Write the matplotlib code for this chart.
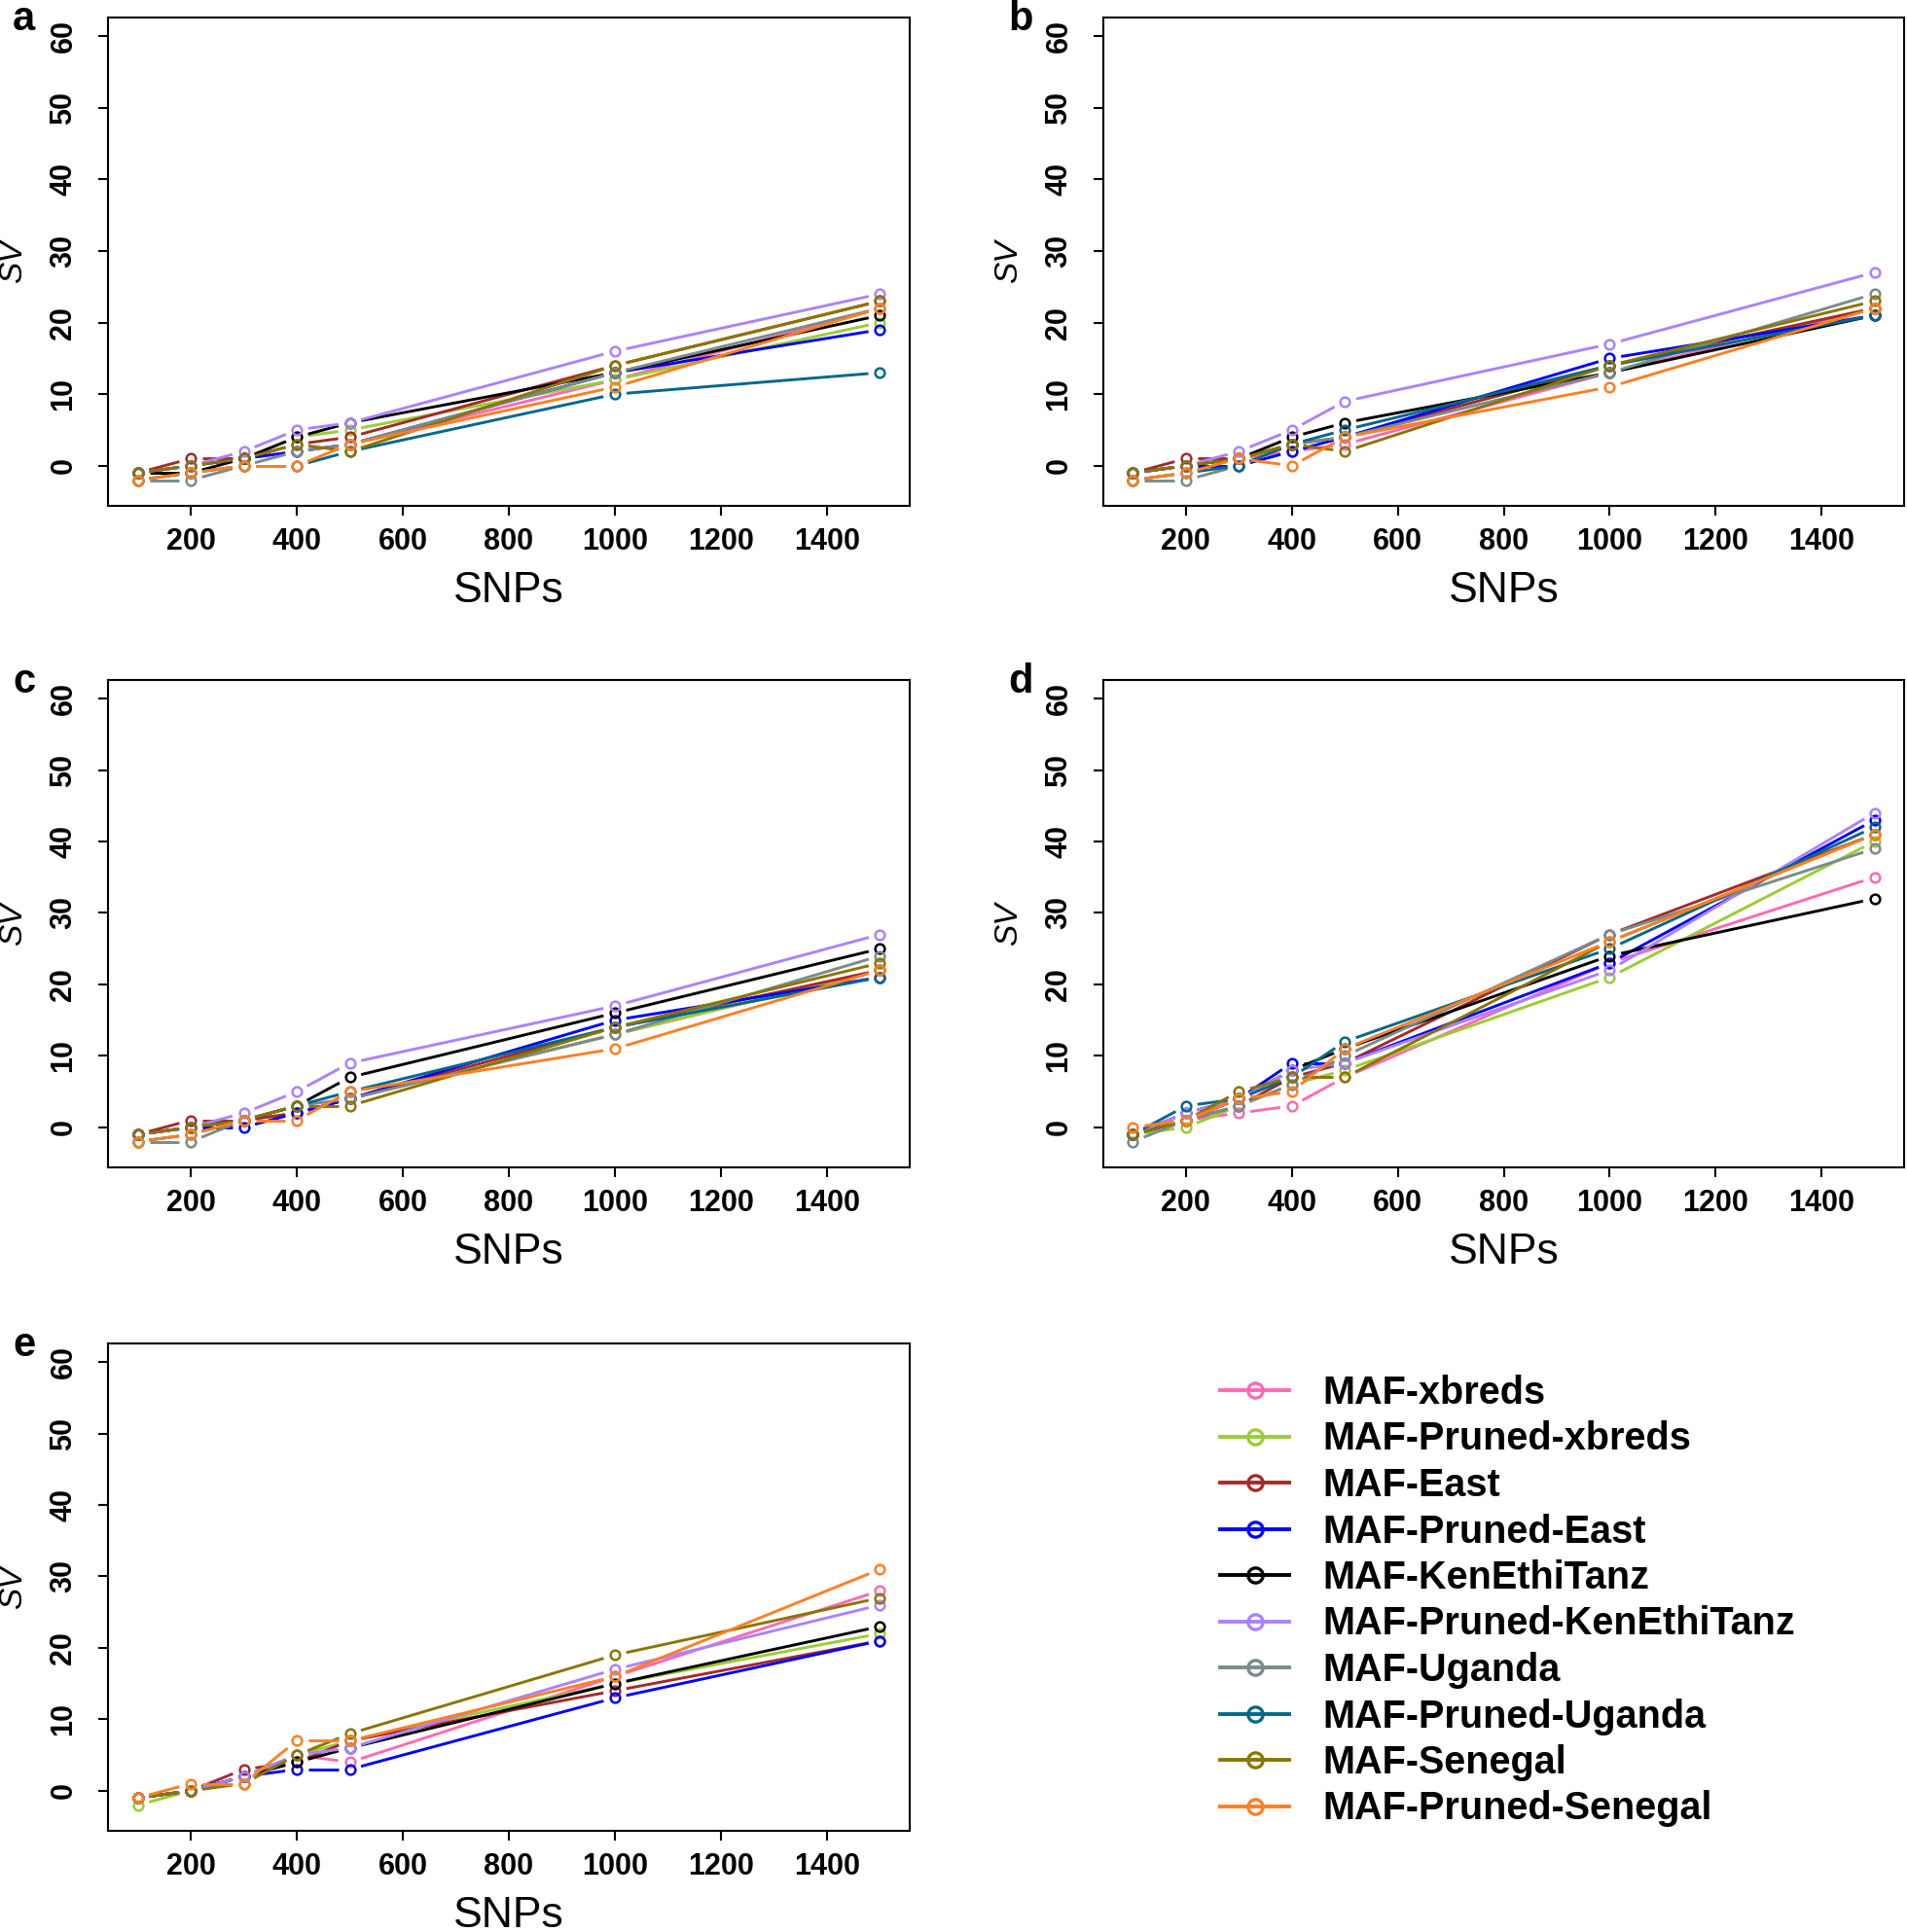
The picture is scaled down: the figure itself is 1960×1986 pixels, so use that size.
import numpy as np
import matplotlib
matplotlib.use("Agg")
import matplotlib.pyplot as plt
from matplotlib.lines import Line2D

plt.rcParams['font.family'] = ['Liberation Sans', 'DejaVu Sans']

snps = [100, 200, 300, 400, 500, 1000, 1500]

series_names = ["MAF-xbreds", "MAF-Pruned-xbreds", "MAF-East", "MAF-Pruned-East",
                "MAF-KenEthiTanz", "MAF-Pruned-KenEthiTanz", "MAF-Uganda",
                "MAF-Pruned-Uganda", "MAF-Senegal", "MAF-Pruned-Senegal"]
colors = ["#FF69B4", "#9ACD32", "#A52A2A", "#0000FF", "#000000",
          "#AB82FF", "#7A8B8B", "#00688B", "#8B7500", "#FF7F24"]

# SV values per series (same order as series_names), one list per panel
sv_a = [[-1, 0, 1, 2, 3, 12, 22],
        [-1, 0, 1, 4, 5, 12, 20],
        [-1, 1, 1, 3, 4, 14, 23],
        [-1, 0, 1, 2, 3, 13, 19],
        [-1, -1, 1, 4, 6, 13, 21],
        [-1, 0, 2, 5, 6, 16, 24],
        [-2, -2, 0, 2, 3, 13, 22],
        [-2, -1, 0, 0, 2, 10, 13],
        [-1, 0, 1, 3, 2, 14, 23],
        [-2, -1, 0, 0, 3, 11, 22]]

sv_b = [[-1, 0, 1, 2, 3, 13, 22],
        [-1, 0, 1, 3, 4, 14, 22],
        [-1, 1, 1, 3, 4, 14, 22],
        [-1, 0, 0, 2, 4, 15, 21],
        [-1, 0, 1, 4, 6, 13, 21],
        [-1, 0, 2, 5, 9, 17, 27],
        [-2, -2, 0, 3, 4, 13, 24],
        [-2, -1, 0, 3, 5, 14, 21],
        [-1, 0, 1, 3, 2, 14, 23],
        [-2, -1, 1, 0, 4, 11, 22]]

sv_c = [[-1, 0, 1, 2, 4, 13, 22],
        [-1, 0, 1, 2, 4, 13, 22],
        [-1, 1, 1, 2, 4, 14, 22],
        [-1, 0, 0, 2, 4, 15, 21],
        [-1, 0, 1, 3, 7, 16, 25],
        [-1, 0, 2, 5, 9, 17, 27],
        [-2, -2, 1, 3, 4, 13, 24],
        [-2, -1, 1, 3, 5, 14, 21],
        [-1, 0, 1, 3, 3, 14, 23],
        [-2, -1, 1, 1, 5, 11, 22]]

sv_d = [[-1, 1, 2, 3, 7, 23, 35],
        [-1, 0, 3, 6, 8, 21, 40],
        [-1, 1, 3, 7, 9, 27, 41],
        [-1, 2, 4, 9, 9, 23, 43],
        [-1, 1, 4, 8, 11, 24, 32],
        [-1, 2, 4, 8, 9, 22, 44],
        [-2, 1, 3, 6, 10, 27, 39],
        [-1, 3, 4, 7, 12, 25, 42],
        [-1, 1, 5, 7, 7, 26, 41],
        [0, 1, 4, 5, 11, 26, 41]]

# panel e has no Uganda series
sv_e = [[-1, 0, 2, 5, 4, 16, 28],
        [-2, 0, 2, 5, 7, 15, 22],
        [-1, 0, 3, 4, 7, 14, 21],
        [-1, 0, 2, 3, 3, 13, 21],
        [-1, 0, 2, 4, 6, 15, 23],
        [-1, 0, 2, 5, 6, 17, 26],
        None,
        None,
        [-1, 0, 1, 5, 8, 19, 27],
        [-1, 1, 1, 7, 7, 16, 31]]

panels = [("a", sv_a), ("b", sv_b), ("c", sv_c), ("d", sv_d), ("e", sv_e)]

W, H = 1960, 1986
fig = plt.figure(figsize=(W / 100, H / 100), dpi=100)

# axes boxes in pixels: left, top, right, bottom
boxes = {"a": (111, 18, 935, 520), "b": (1134, 18, 1957, 520),
         "c": (111, 699, 935, 1200), "d": (1134, 699, 1957, 1200),
         "e": (111, 1381, 935, 1882)}

GAP = 12  # px gap between line and point, like R type="b"


def draw_series(ax, x, y, color):
    pts = ax.transData.transform(np.column_stack([x, y]))
    inv = ax.transData.inverted()
    for p0, p1 in zip(pts[:-1], pts[1:]):
        d = p1 - p0
        L = np.hypot(*d)
        if L <= 2 * GAP:
            continue
        u = d / L
        seg = inv.transform(np.array([p0 + u * GAP, p1 - u * GAP]))
        ax.plot(seg[:, 0], seg[:, 1], color=color, lw=2.1, solid_capstyle='butt')
    ax.plot(x, y, 'o', mfc='none', mec=color, ms=7, mew=1.8, ls='none')


for letter, data in panels:
    l, t, r, b = boxes[letter]
    ax = fig.add_axes([l / W, 1 - b / H, (r - l) / W, (b - t) / H])
    ax.set_xlim(44, 1556)
    ax.set_ylim(-5.6, 62.6)
    ax.set_xticks([200, 400, 600, 800, 1000, 1200, 1400])
    ax.set_yticks([0, 10, 20, 30, 40, 50, 60])
    for s in ax.spines.values():
        s.set_linewidth(1.5)
    ax.tick_params(axis='both', length=7, width=1.5, labelsize=22)
    ax.tick_params(axis='x', pad=9)
    ax.tick_params(axis='y', pad=15, labelrotation=90)
    for lbl in ax.get_xticklabels() + ax.get_yticklabels():
        lbl.set_fontweight('bold')
    for lbl in ax.get_yticklabels():
        lbl.set_va('center')

    for vals, color in zip(data, colors):
        if vals is None:
            continue
        draw_series(ax, snps, vals, color)

    ax.set_xlabel("SNPs", fontsize=32)
    ax.xaxis.set_label_coords(0.5, -0.174)
    ax.xaxis.label.set_va('center')
    ax.set_ylabel("SV", fontsize=24, style='italic')
    ax.yaxis.set_label_coords(-0.118, 0.5)
    ax.yaxis.label.set_va('center')

    fig.text((l - 98) / W, 1 - (t + 2) / H, letter, fontsize=30,
             fontweight='bold', va='center', ha='left')

handles = [Line2D([0], [0], color=c, lw=2.8, marker='o', mfc='none',
                  mec=c, ms=11, mew=2.4) for c in colors]
fig.legend(handles, series_names, loc='upper left',
           bbox_to_anchor=(1254 / W, 1 - 1413 / H), frameon=False,
           prop={'weight': 'bold', 'size': 28.5}, handlelength=1.8,
           handletextpad=0.85, labelspacing=0.24, borderpad=0,
           borderaxespad=0, numpoints=1)

fig.savefig("out.png", dpi=100)
